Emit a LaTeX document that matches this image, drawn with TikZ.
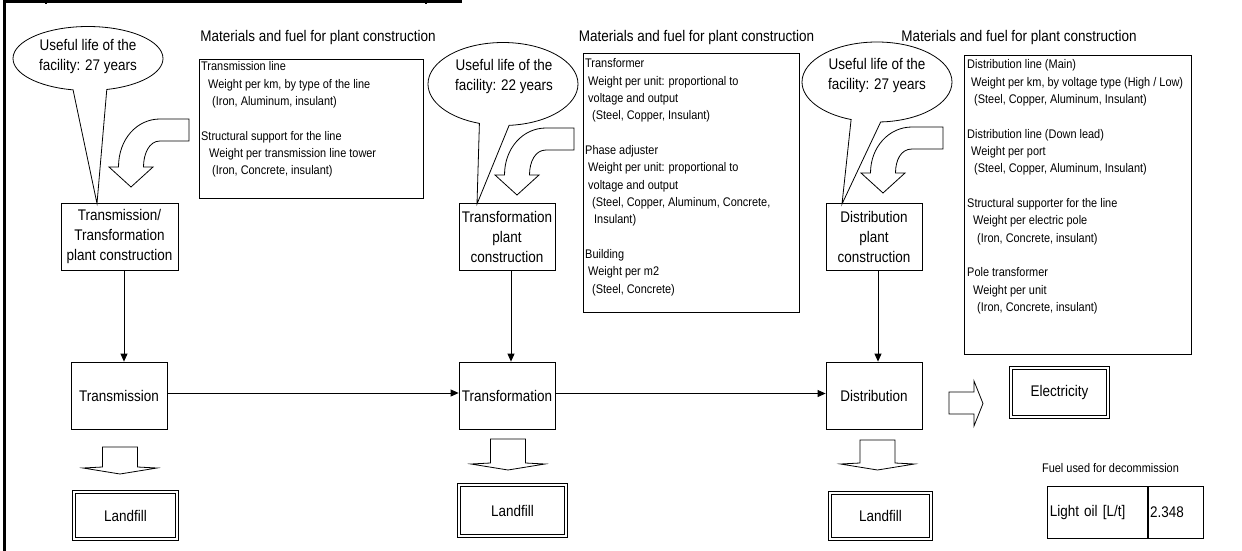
\documentclass[tikz,border=0pt]{standalone}
\usepackage{fontspec}
\setmainfont{Liberation Sans}[FakeStretch=0.875]
\usetikzlibrary{shapes.geometric,shapes.callouts,arrows.meta}

\newcommand\largetext{\fontsize{15.4pt}{20pt}\selectfont}
\newcommand\listtext{\fontsize{12.5pt}{17.35pt}\selectfont}
\newcommand\emptyrow{\\[17.35pt]}
\newcommand\indentby[1]{\hspace*{#1pt}}

% bent block arrow: #1 tip x, #2 tip y, #3 top of the arm, #4 right end of the arm
\newcommand\bentarrow[4]{%
  \draw[blockarrow] (#4,#3) -- ({#1+29},#3)
    .. controls ({#1+6},#3) and ({#1-12.5},{#3+20}) .. ({#1-12.5},{#2-20})
    -- ({#1-22},{#2-20}) -- (#1,#2) -- ({#1+22},{#2-20}) -- ({#1+12.5},{#2-20})
    .. controls ({#1+12.5},{#2-33}) and ({#1+18},{#3+22}) .. ({#1+29},{#3+22})
    -- (#4,{#3+22}) -- cycle;}

% flat downward block arrow: #1 centre x, #2 top, #3 head base, #4 tip y
\newcommand\downblock[4]{%
  \draw[blockarrow] ({#1-17.5},#2) -- ({#1+17.5},#2) -- ({#1+17.5},#3)
    -- ({#1+37},{#3+1}) -- (#1,#4) -- ({#1-37},{#3+1}) -- ({#1-17.5},#3) -- cycle;}

\tikzset{
  frame/.style={draw, line width=0.8pt},
  plantbox/.style={frame, minimum width=96pt, minimum height=67pt, inner sep=1pt,
    align=center, font=\largetext},
  sinkbox/.style={draw, line width=0.9pt, double=white, double distance=2.2pt,
    inner sep=1pt, font=\largetext},
  lifecallout/.style={ellipse callout, draw, fill=white, line width=0.8pt,
    minimum width=150pt, inner sep=0pt},
  calltext/.style={align=center, font=\largetext, inner sep=0pt},
  heading/.style={font=\largetext, inner sep=0pt},
  listbox/.style={frame, anchor=north west, inner sep=0pt},
  listtxt/.style={anchor=north west, align=left, font=\listtext, inner sep=0pt},
  flow/.style={line width=0.8pt, -{Triangle[length=8pt,width=7pt]}},
  blockarrow/.style={draw, fill=white, line width=0.8pt, line join=miter},
  cell/.style={frame, anchor=north west, align=left, font=\largetext,
    inner xsep=2.5pt, minimum height=52pt},
}

\begin{document}
\begin{tikzpicture}[x=1pt, y=-1pt]
\useasboundingbox (0,0) rectangle (1242,551);

% page rules
\draw[line width=3pt] (4.5,0) -- (4.5,551);
\draw[line width=2.6pt] (3,1.3) -- (462,1.3);
\draw[line width=1.2pt] (46,1) -- (46,4.5);
\draw[line width=1.2pt] (426,1) -- (426,4.5);

% plant construction boxes
\node[plantbox, minimum width=117pt] (c1) at (119.5,236.5) {Transmission/\\Transformation\\plant construction};
\node[plantbox] (c2) at (507,237) {Transformation\\plant\\construction};
\node[plantbox] (c3) at (874,237) {Distribution\\plant\\construction};

% useful-life callouts
\coordinate (p1) at (97,203.5);
\coordinate (p2) at (477,204);
\coordinate (p3) at (842,204);
\node[lifecallout, minimum height=64pt, callout absolute pointer={(p1)}, callout pointer arc=26] (e1) at (88,58.5) {};
\node[lifecallout, minimum height=83pt, callout absolute pointer={(p2)}, callout pointer arc=23] (e2) at (503,84) {};
\node[lifecallout, minimum height=80pt, callout absolute pointer={(p3)}, callout pointer arc=23] (e3) at (877,82) {};
\node[calltext] (e1t) at (88,56.5) {Useful life of the\\facility: 27 years};
\node[calltext] (e2t) at (504,76.5) {Useful life of the\\facility: 22 years};
\node[calltext] (e3t) at (877,75.5) {Useful life of the\\facility: 27 years};

% material inputs
\bentarrow{131}{187}{119}{189}
\bentarrow{517}{195}{128}{574}
\bentarrow{883}{193}{127}{943}

\node[listbox, minimum width=224pt, minimum height=139pt] (m1) at (199,59) {};
\node[listtxt] (m1t) at (201,61.5) {Transmission line\\
  \indentby{7}Weight per km, by type of the line\\
  \indentby{11}(Iron, Aluminum, insulant)\emptyrow
  Structural support for the line\\
  \indentby{8}Weight per transmission line tower\\
  \indentby{11}(Iron, Concrete, insulant)};

\node[listbox, minimum width=216pt, minimum height=259pt] (m2) at (583,53) {};
\node[listtxt] (m2t) at (585,58.5) {Transformer\\
  \indentby{3}Weight per unit: proportional to\\
  \indentby{3}voltage and output\\
  \indentby{7}(Steel, Copper, Insulant)\emptyrow
  Phase adjuster\\
  \indentby{3}Weight per unit: proportional to\\
  \indentby{3}voltage and output\\
  \indentby{7}(Steel, Copper, Aluminum, Concrete,\\
  \indentby{9}Insulant)\emptyrow
  Building\\
  \indentby{3}Weight per m2\\
  \indentby{7}(Steel, Concrete)};

\node[listbox, minimum width=227pt, minimum height=299pt] (m3) at (964,55) {};
\node[listtxt] (m3t) at (967,59.5) {Distribution line (Main)\\
  \indentby{4}Weight per km, by voltage type (High / Low)\\
  \indentby{7}(Steel, Copper, Aluminum, Insulant)\emptyrow
  Distribution line (Down lead)\\
  \indentby{4}Weight per port\\
  \indentby{7}(Steel, Copper, Aluminum, Insulant)\emptyrow
  Structural supporter for the line\\
  \indentby{6}Weight per electric pole\\
  \indentby{10}(Iron, Concrete, insulant)\emptyrow
  Pole transformer\\
  \indentby{6}Weight per unit\\
  \indentby{10}(Iron, Concrete, insulant)};

\node[heading] (h1) at (318,38) {Materials and fuel for plant construction};
\node[heading] (h2) at (696.5,38) {Materials and fuel for plant construction};
\node[heading] (h3) at (1019,38) {Materials and fuel for plant construction};

% process chain
\node[plantbox] (t1) at (119,395.5) {Transmission};
\node[plantbox] (t2) at (507,395.5) {Transformation};
\node[plantbox] (t3) at (874,395.5) {Distribution};

\draw[flow] ([xshift=4.5pt]c1.south) -- ([xshift=4.5pt]c1.south |- t1.north);
\draw[flow] ([xshift=4pt]c2.south) -- ([xshift=4pt]t2.north);
\draw[flow] ([xshift=4pt]c3.south) -- ([xshift=4pt]t3.north);
\draw[flow] ([yshift=2.5pt]t1.east) -- ([yshift=2.5pt]t2.west);
\draw[flow] ([yshift=2pt]t2.east) -- ([yshift=2pt]t3.west);

% outputs
\draw[blockarrow] (949,392) -- (974,392) -- (974,381) -- (983,403.5)
  -- (974,426) -- (974,414) -- (949,414) -- cycle;
\node[sinkbox, minimum width=97pt, minimum height=49pt] (el) at (1059.5,392.5) {Electricity};

\downblock{120}{447}{467}{474}
\downblock{508}{439}{463}{470}
\downblock{877.5}{440}{463}{470}

\node[sinkbox, minimum width=103pt, minimum height=47pt] (l1) at (125.5,515.5) {Landfill};
\node[sinkbox, minimum width=107pt, minimum height=51pt] (l2) at (512.5,510.5) {Landfill};
\node[sinkbox, minimum width=101pt, minimum height=46pt] (l3) at (880.5,516) {Landfill};

% decommissioning fuel
\node[font=\listtext, inner sep=0pt] (fuel) at (1110.5,468) {Fuel used for decommission};
\node[cell, text width=95pt] (oil) at (1047,486) {Light oil [L/t]};
\node[cell, text width=51pt, inner xsep=2pt] (val) at (oil.north east) {2.348};
\end{tikzpicture}
\end{document}
